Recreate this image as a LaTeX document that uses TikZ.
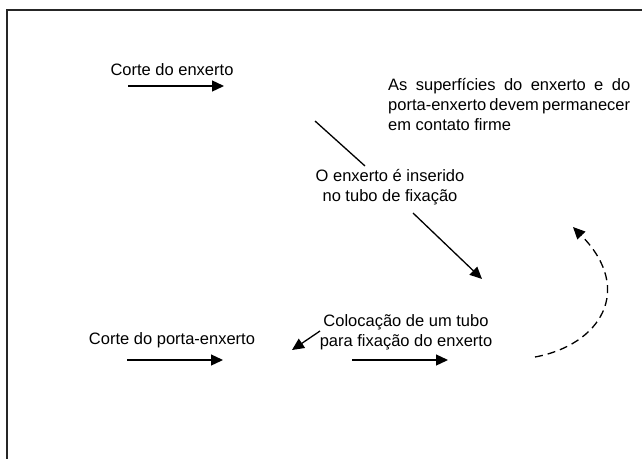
\documentclass[tikz,border=0pt]{standalone}
\usepackage{fontspec}
\setmainfont{Liberation Sans}
\usetikzlibrary{arrows.meta}
\begin{document}
\begin{tikzpicture}[x=1pt,y=-1pt,
  lbl/.style={font=\fontsize{16.5}{20}\selectfont, inner sep=0pt, align=center},
  arr/.style={line width=1.3pt, -{Triangle[length=12pt,width=11pt]}},
  plain/.style={line width=1.3pt}]
\useasboundingbox (0,0) rectangle (642,458);
\begin{scope}
\clip (0,0) rectangle (642,458);
\draw[line width=2pt, black!85] (7,470) -- (7,10) -- (660,10);
\end{scope}
% texts
\node[lbl] (t1) at (172,70) {Corte do enxerto};
\node[lbl, anchor=north west, align=left] (t2) at (388,78)
  {\makebox[242pt][s]{As superfícies do enxerto e do}\\
   \makebox[242pt][s]{porta-enxerto devem permanecer}\\
   em contato firme};
\node[lbl] (t3) at (390,187) {O enxerto é inserido\\no tubo de fixação};
\node[lbl] (t4) at (406,332) {Colocação de um tubo\\para fixação do enxerto};
\node[lbl] (t5) at (172,340) {Corte do porta-enxerto};
% connector end points
\coordinate (a1s) at (128,86);  \coordinate (a1e) at (224,86);
\coordinate (l1s) at (315,121); \coordinate (l1e) at (365,166);
\coordinate (a2s) at (413,213); \coordinate (a2e) at (482,279);
\coordinate (a3s) at (320,331); \coordinate (a3e) at (292,350);
\coordinate (a4s) at (127,360); \coordinate (a4e) at (223,360);
\coordinate (a5s) at (352,360); \coordinate (a5e) at (448,360);
\coordinate (cs) at (535,357);  \coordinate (ce) at (573,227);
\draw[arr] (a1s) -- (a1e);
\draw[plain] (l1s) -- (l1e);
\draw[arr] (a2s) -- (a2e);
\draw[arr] (a3s) -- (a3e);
\draw[arr] (a4s) -- (a4e);
\draw[arr] (a5s) -- (a5e);
\draw[arr, dash pattern=on 8pt off 5pt] (cs) .. controls (600,345) and (635,290) .. (ce);
\end{tikzpicture}
\end{document}
